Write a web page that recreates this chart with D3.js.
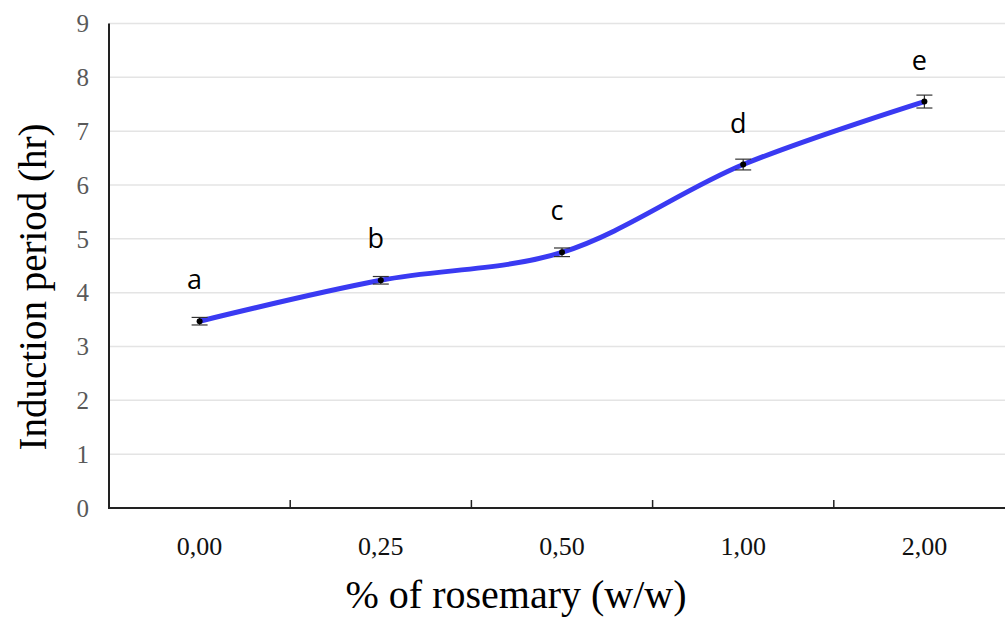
<!DOCTYPE html>
<html>
<head>
<meta charset="utf-8">
<script src="https://cdn.jsdelivr.net/npm/d3@7"></script>
<style>
  body { margin: 0; background: #fff; }
</style>
</head>
<body>
<div id="chart"></div>
<script>
// data
var categories = ['0,00', '0,25', '0,50', '1,00', '2,00'];
var values = [3.47, 4.23, 4.75, 6.38, 7.55];
var errors = [0.07, 0.07, 0.08, 0.1, 0.12];
var letters = ['a', 'b', 'c', 'd', 'e'];
var yTicks = [0, 1, 2, 3, 4, 5, 6, 7, 8, 9];

var width = 1005, height = 617;

var svg = d3.select('#chart')
  .append('svg')
  .attr('width', width)
  .attr('height', height);

// plot area
var plotLeft = 109, plotTop = 23.5, plotBottom = 508, plotRight = 1015;

var x = d3.scaleBand()
  .domain(categories)
  .range([plotLeft, plotRight]);

var y = d3.scaleLinear()
  .domain([0, 9])
  .range([plotBottom, plotTop]);

var serif = '"Liberation Serif", "Times New Roman", serif';

// grid lines
svg.append('g')
  .selectAll('line')
  .data(yTicks.filter(d => d > 0))
  .enter()
  .append('line')
  .attr('x1', plotLeft)
  .attr('x2', width)
  .attr('y1', d => y(d))
  .attr('y2', d => y(d))
  .attr('stroke', '#e4e4e4')
  .attr('stroke-width', 1.5);

// y tick labels
svg.append('g')
  .selectAll('text')
  .data(yTicks)
  .enter()
  .append('text')
  .attr('x', 89)
  .attr('y', d => y(d))
  .attr('dy', '0.35em')
  .attr('text-anchor', 'end')
  .attr('fill', '#595959')
  .style('font-family', serif)
  .style('font-size', '25px')
  .text(d => d);

// axes lines
svg.append('line')
  .attr('x1', plotLeft).attr('x2', plotLeft)
  .attr('y1', y(9)).attr('y2', plotBottom)
  .attr('stroke', '#222').attr('stroke-width', 2);

svg.append('line')
  .attr('x1', plotLeft - 1).attr('x2', width)
  .attr('y1', plotBottom).attr('y2', plotBottom)
  .attr('stroke', '#222').attr('stroke-width', 2);

// x ticks between categories
svg.append('g')
  .selectAll('line')
  .data(categories.slice(1))
  .enter()
  .append('line')
  .attr('x1', d => x(d))
  .attr('x2', d => x(d))
  .attr('y1', plotBottom)
  .attr('y2', plotBottom - 8)
  .attr('stroke', '#222')
  .attr('stroke-width', 1.5);

// x tick labels
svg.append('g')
  .selectAll('text')
  .data(categories)
  .enter()
  .append('text')
  .attr('x', d => x(d) + x.bandwidth() / 2)
  .attr('y', 555)
  .attr('text-anchor', 'middle')
  .attr('fill', '#111')
  .style('font-family', serif)
  .style('font-size', '26px')
  .text(d => d);

var pts = categories.map((c, i) => ({
  x: x(c) + x.bandwidth() / 2,
  v: values[i],
  e: errors[i],
  l: letters[i]
}));

// smooth line
var line = d3.line()
  .x(d => d.x)
  .y(d => y(d.v))
  .curve(d3.curveCatmullRom.alpha(0.5));

svg.append('path')
  .datum(pts)
  .attr('d', line)
  .attr('fill', 'none')
  .attr('stroke', '#3a3af2')
  .attr('stroke-width', 5)
  .attr('stroke-linecap', 'round');

// error bars
var eb = svg.append('g')
  .selectAll('g')
  .data(pts)
  .enter()
  .append('g')
  .attr('stroke', '#333')
  .attr('stroke-width', 1.2);

eb.append('line')
  .attr('x1', d => d.x).attr('x2', d => d.x)
  .attr('y1', d => y(d.v - d.e)).attr('y2', d => y(d.v + d.e));
eb.append('line')
  .attr('x1', d => d.x - 8).attr('x2', d => d.x + 8)
  .attr('y1', d => y(d.v - d.e)).attr('y2', d => y(d.v - d.e));
eb.append('line')
  .attr('x1', d => d.x - 8).attr('x2', d => d.x + 8)
  .attr('y1', d => y(d.v + d.e)).attr('y2', d => y(d.v + d.e));

// markers
svg.append('g')
  .selectAll('circle')
  .data(pts)
  .enter()
  .append('circle')
  .attr('cx', d => d.x)
  .attr('cy', d => y(d.v))
  .attr('r', 3)
  .attr('fill', '#000');

// significance letters
svg.append('g')
  .selectAll('text')
  .data(pts)
  .enter()
  .append('text')
  .attr('x', d => d.x - 5)
  .attr('y', d => y(d.v) - 32)
  .attr('text-anchor', 'middle')
  .attr('fill', '#000')
  .style('font-family', '"Open Sans", "DejaVu Sans", sans-serif')
  .style('font-size', '27px')
  .text(d => d.l);

// axis titles
svg.append('text')
  .attr('transform', 'translate(46, 287) rotate(-90)')
  .attr('text-anchor', 'middle')
  .attr('fill', '#000')
  .style('font-family', serif)
  .style('font-size', '39px')
  .text('Induction period (hr)');

svg.append('text')
  .attr('x', 516)
  .attr('y', 608)
  .attr('text-anchor', 'middle')
  .attr('fill', '#000')
  .style('font-family', serif)
  .style('font-size', '40px')
  .text('% of rosemary (w/w)');
</script>
</body>
</html>
